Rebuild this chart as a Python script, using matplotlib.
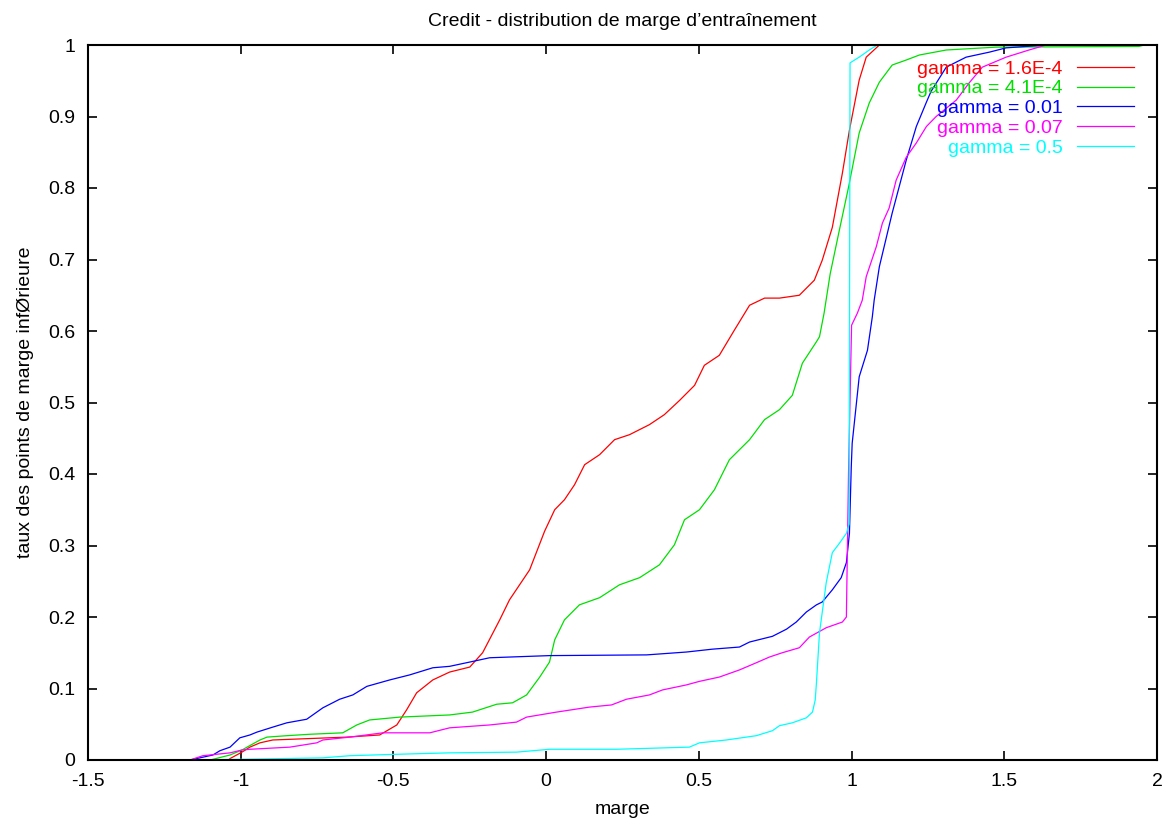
import numpy as np
import matplotlib
matplotlib.use("Agg")
import matplotlib.pyplot as plt

# -- data (cumulative margin distributions)
labels = ["gamma = 1.6E-4", "gamma = 4.1E-4", "gamma = 0.01", "gamma = 0.07", "gamma = 0.5"]
colors = ["#ff0000", "#00e000", "#0000ff", "#ff00ff", "#00ffff"]

x_red = [-1.10, -1.04, -1.035, -0.996, -0.970, -0.937, -0.895, -0.653, -0.545, -0.489, -0.457,
         -0.424, -0.371, -0.316, -0.250, -0.208, -0.152, -0.120, -0.087, -0.054, -0.005, 0.028,
         0.060, 0.093, 0.126, 0.175, 0.224, 0.273, 0.338, 0.387, 0.437, 0.486, 0.518, 0.567,
         0.616, 0.666, 0.715, 0.764, 0.829, 0.878, 0.904, 0.937, 0.970, 0.993, 1.025, 1.048, 1.091]
y_red = [0.0, 0.0, 0.002, 0.011, 0.018, 0.024, 0.028, 0.032, 0.035, 0.049, 0.070,
         0.094, 0.112, 0.123, 0.130, 0.150, 0.196, 0.224, 0.245, 0.266, 0.320, 0.350,
         0.364, 0.385, 0.413, 0.427, 0.448, 0.455, 0.469, 0.483, 0.503, 0.524, 0.552, 0.566,
         0.601, 0.636, 0.646, 0.646, 0.650, 0.671, 0.699, 0.745, 0.821, 0.881, 0.951, 0.983, 1.0]

x_green = [-1.10, -1.035, -0.996, -0.937, -0.914, -0.849, -0.774, -0.666, -0.620, -0.578, -0.479,
           -0.316, -0.241, -0.162, -0.110, -0.064, -0.021, 0.011, 0.028, 0.060, 0.109, 0.175,
           0.240, 0.306, 0.371, 0.420, 0.453, 0.502, 0.551, 0.600, 0.666, 0.715, 0.764, 0.806,
           0.839, 0.885, 0.895, 0.910, 0.930, 0.960, 0.990, 1.025, 1.058, 1.091, 1.133, 1.179,
           1.222, 1.310, 1.473, 1.941, 1.958]
y_green = [0.0, 0.007, 0.014, 0.028, 0.032, 0.034, 0.036, 0.038, 0.049, 0.056, 0.060,
           0.063, 0.067, 0.078, 0.080, 0.091, 0.116, 0.137, 0.168, 0.196, 0.217, 0.227,
           0.245, 0.255, 0.273, 0.301, 0.336, 0.350, 0.378, 0.420, 0.448, 0.476, 0.490, 0.510,
           0.555, 0.585, 0.592, 0.625, 0.680, 0.741, 0.801, 0.877, 0.919, 0.948, 0.972, 0.979,
           0.986, 0.993, 0.997, 0.998, 1.0]

x_blue = [-1.166, -1.091, -1.068, -1.035, -1.003, -0.970, -0.947, -0.895, -0.849, -0.784, -0.731,
          -0.676, -0.633, -0.587, -0.512, -0.447, -0.371, -0.316, -0.250, -0.185, 0.011, 0.329,
          0.459, 0.544, 0.633, 0.666, 0.741, 0.787, 0.819, 0.852, 0.885, 0.904, 0.937, 0.966,
          0.983, 0.993, 0.999, 1.002, 1.025, 1.052, 1.068, 1.074, 1.091, 1.133, 1.179, 1.212,
          1.245, 1.260, 1.310, 1.375, 1.451, 1.506, 1.637]
y_blue = [0.0, 0.007, 0.013, 0.018, 0.031, 0.035, 0.039, 0.046, 0.052, 0.057, 0.073,
          0.085, 0.091, 0.103, 0.112, 0.119, 0.129, 0.131, 0.137, 0.143, 0.146, 0.147,
          0.151, 0.155, 0.158, 0.165, 0.173, 0.183, 0.193, 0.207, 0.217, 0.221, 0.238, 0.255,
          0.276, 0.317, 0.410, 0.443, 0.536, 0.573, 0.620, 0.643, 0.690, 0.765, 0.839, 0.886,
          0.920, 0.935, 0.969, 0.983, 0.990, 0.996, 1.0]

x_mag = [-1.166, -1.124, -1.035, -0.996, -0.970, -0.839, -0.751, -0.731, -0.643, -0.535, -0.381,
         -0.316, -0.185, -0.097, -0.064, 0.034, 0.142, 0.214, 0.263, 0.338, 0.381, 0.459,
         0.502, 0.567, 0.633, 0.688, 0.731, 0.773, 0.829, 0.862, 0.917, 0.970, 0.983, 0.990,
         1.000, 1.019, 1.035, 1.048, 1.081, 1.101, 1.123, 1.146, 1.179, 1.212, 1.245, 1.277,
         1.343, 1.385, 1.428, 1.506, 1.581, 1.637]
y_mag = [0.0, 0.006, 0.010, 0.014, 0.015, 0.018, 0.024, 0.028, 0.032, 0.038, 0.038,
         0.045, 0.049, 0.053, 0.060, 0.067, 0.074, 0.077, 0.085, 0.091, 0.098, 0.105,
         0.110, 0.116, 0.126, 0.136, 0.144, 0.150, 0.157, 0.172, 0.185, 0.193, 0.200, 0.400,
         0.608, 0.625, 0.643, 0.676, 0.718, 0.751, 0.772, 0.811, 0.843, 0.863, 0.886, 0.900,
         0.923, 0.947, 0.969, 0.983, 0.993, 1.0]

x_cyan = [-1.166, -0.996, -0.731, -0.643, -0.489, -0.316, -0.097, 0.011, 0.230, 0.469, 0.502,
          0.590, 0.688, 0.741, 0.764, 0.806, 0.852, 0.872, 0.881, 0.885, 0.895, 0.917, 0.937,
          0.960, 0.983, 0.992, 0.995, 1.025, 1.058, 1.084]
y_cyan = [0.0, 0.001, 0.003, 0.006, 0.008, 0.010, 0.011, 0.015, 0.015, 0.018, 0.024,
          0.028, 0.034, 0.041, 0.048, 0.052, 0.059, 0.067, 0.084, 0.108, 0.178, 0.248, 0.290,
          0.303, 0.317, 0.330, 0.975, 0.983, 0.993, 1.0]

series = [(x_red, y_red), (x_green, y_green), (x_blue, y_blue), (x_mag, y_mag), (x_cyan, y_cyan)]

xticks = [-1.5, -1, -0.5, 0, 0.5, 1, 1.5, 2]
xticklabels = ["-1.5", "-1", "-0.5", "0", "0.5", "1", "1.5", "2"]
yticks = [0, 0.1, 0.2, 0.3, 0.4, 0.5, 0.6, 0.7, 0.8, 0.9, 1]
yticklabels = ["0", "0.1", "0.2", "0.3", "0.4", "0.5", "0.6", "0.7", "0.8", "0.9", "1"]

plt.rcParams['font.family'] = ['Liberation Sans', 'DejaVu Sans']
fs = 14

fig = plt.figure(figsize=(11.67, 8.23), dpi=100)
ax = fig.add_axes([88 / 1167, 1 - 760 / 823, (1157 - 88) / 1167, (760 - 45) / 823])

for (xs, ys), lab, col in zip(series, labels, colors):
    ax.plot(xs, ys, color=col, lw=0.9, label=lab)

ax.set_xlim(-1.5, 2)
ax.set_ylim(0, 1)
ax.set_xticks(xticks)
ax.set_xticklabels(xticklabels)
ax.set_yticks(yticks)
ax.set_yticklabels(yticklabels)
ax.tick_params(direction='in', length=6.5, width=1.2, top=True, right=True,
               labelsize=fs, pad=9, colors='black')
for sp in ax.spines.values():
    sp.set_linewidth(1.5)

ax.set_title("Credit - distribution de marge d\u2019entra\u00eenement", fontsize=fs, pad=14)
ax.set_xlabel("marge", fontsize=fs, labelpad=8)
ax.set_ylabel("taux des points de marge inf\u00d8rieure", fontsize=fs, labelpad=10)

leg = ax.legend(loc='upper right', bbox_to_anchor=((1134 - 88) / 1069, 0.979), frameon=False,
                markerfirst=False, handlelength=2.95, handletextpad=0.72,
                labelspacing=0.11, fontsize=fs, labelcolor='linecolor',
                borderpad=0, borderaxespad=0)

fig.savefig("out.png", dpi=100)
